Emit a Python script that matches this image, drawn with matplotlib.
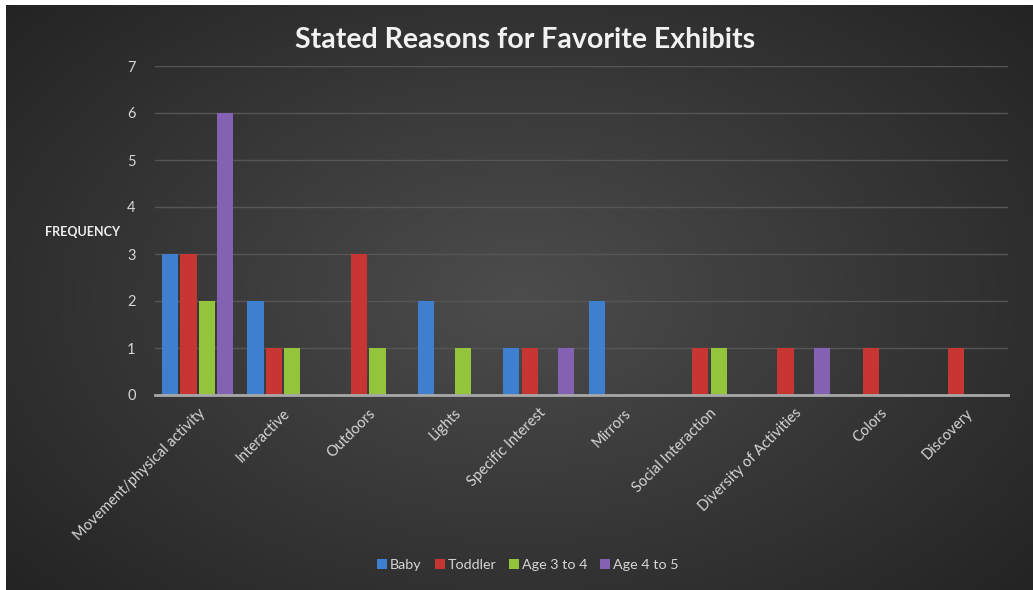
import numpy as np
import matplotlib.pyplot as plt
from matplotlib.patches import Patch

categories = ['Movement/physical activity', 'Interactive', 'Outdoors', 'Lights',
              'Specific Interest', 'Mirrors', 'Social Interaction',
              'Diversity of Activities', 'Colors', 'Discovery']
baby = [3, 2, 0, 2, 1, 2, 0, 0, 0, 0]
toddler = [3, 1, 3, 0, 1, 0, 1, 1, 1, 1]
age_3_4 = [2, 1, 1, 1, 0, 0, 1, 0, 0, 0]
age_4_5 = [6, 0, 0, 0, 1, 0, 0, 1, 0, 0]
series_names = ['Baby', 'Toddler', 'Age 3 to 4', 'Age 4 to 5']
colors = ['#3f7fd0', '#c83634', '#94c43b', '#8461b3']

plt.rcParams['font.family'] = ['Lato', 'DejaVu Sans']

W, H = 1033, 590
fig = plt.figure(figsize=(W / 100, H / 100), dpi=100, facecolor='white')

# dark radial gradient backdrop
bg = fig.add_axes([6 / W, 0, 1 - 6 / W, 1 - 5 / H])
yy, xx = np.mgrid[-1:1:300j, -1:1:500j]
r = np.sqrt((xx * 0.9) ** 2 + (yy * 0.8) ** 2)
shade = 0.30 - 0.16 * np.clip(r, 0, 1.2) / 1.2
bg.imshow(np.dstack([shade] * 3), aspect='auto', extent=[0, 1, 0, 1])
bg.set_axis_off()

ax = fig.add_axes([155 / W, 1 - 395 / H, (1008 - 155) / W, (395 - 66) / H])
ax.patch.set_alpha(0)

x = np.arange(len(categories))
slot = 0.215
bw = 0.19
for i, (vals, name, c) in enumerate(zip([baby, toddler, age_3_4, age_4_5], series_names, colors)):
    ax.bar(x + (i - 1.5) * slot, vals, width=bw, color=c, zorder=3, label=name)

ax.set_xlim(-0.5, len(categories) - 0.5)
ax.set_ylim(0, 7)
ax.set_yticks(range(8))
ax.yaxis.grid(True, color='#565656', linewidth=1, zorder=0)
ax.set_axisbelow(True)
for s in ['top', 'right', 'left']:
    ax.spines[s].set_visible(False)
ax.spines['bottom'].set_color('#a8a8a8')
ax.spines['bottom'].set_linewidth(2)
ax.spines['bottom'].set_zorder(4)

ax.set_xticks(x)
ax.set_xticklabels(categories, rotation=45, ha='right', rotation_mode='anchor')
ax.tick_params(axis='both', length=0, colors='#d6d6d6', labelsize=10.5)
ax.tick_params(axis='y', pad=14)
ax.tick_params(axis='x', pad=8)

fig.text(525 / W, 1 - 40 / H, 'Stated Reasons for Favorite Exhibits', ha='center', va='center',
         fontsize=20.5, fontweight='bold', color='#f2f2f2')
fig.text(83 / W, 1 - 232 / H, 'FREQUENCY', ha='center', va='center',
         fontsize=9, fontweight='bold', color='#eeeeee')

handles = [Patch(facecolor=c, label=n) for c, n in zip(colors, series_names)]
fig.legend(handles=handles, loc='center', bbox_to_anchor=(528 / W, 1 - 565 / H), ncol=4,
           frameon=False, fontsize=10.3, labelcolor='#d6d6d6', handlelength=0.7,
           handleheight=0.7, handletextpad=0.2, columnspacing=0.9)

fig.savefig('out.png', dpi=100, facecolor=fig.get_facecolor())
